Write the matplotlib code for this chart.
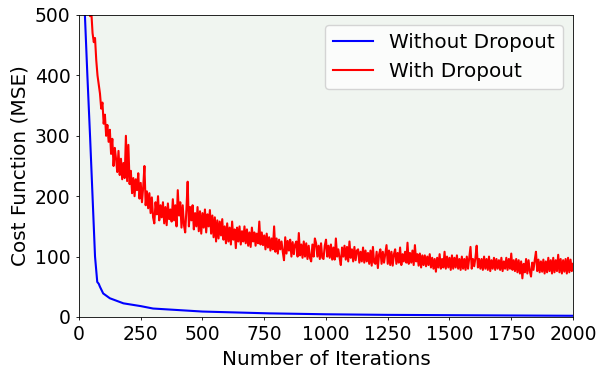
import numpy as np
import matplotlib.pyplot as plt

# Without dropout (smooth curve)
iter_nodrop = [0, 10, 24, 34, 45, 55, 65, 74, 80, 85, 98, 125, 180, 250, 300, 500, 770, 1000, 1250, 1500, 1750, 2000]
cost_nodrop = [760, 640, 500, 400, 298, 199, 100, 58, 55, 50, 39, 31, 22.6, 18, 14, 9, 6, 4.5, 3.5, 3, 2.5, 2]

# With dropout (noisy curve), one value every 5 iterations starting at 30
cost_drop = [
    565, 545, 520, 498, 505, 470, 455, 462, 425, 400,   # 30
    385, 370, 345, 355, 320, 335, 300, 318, 290, 310,   # 80
    270, 295, 250, 280, 262, 240, 275, 235, 262, 228,   # 130
    255, 230, 300, 225, 285, 220, 242, 205, 230, 200,   # 180
    228, 210, 238, 196, 222, 190, 215, 250, 185, 208,   # 230
    180, 205, 172, 198, 165, 155, 190, 170, 200, 160,   # 280
    185, 165, 190, 155, 182, 152, 188, 162, 178, 158,   # 330
    195, 160, 185, 150, 210, 168, 190, 148, 185, 152,   # 380
    140, 178, 224, 150, 182, 160, 185, 145, 172, 150,   # 430
    182, 142, 175, 138, 172, 148, 178, 140, 170, 150,   # 480
    177, 138, 168, 132, 165, 125, 160, 130, 158, 135,   # 530
    162, 128, 150, 122, 155, 125, 148, 120, 158, 128,   # 580
    145, 114, 148, 125, 150, 120, 142, 125, 150, 122,   # 630
    145, 118, 140, 116, 148, 125, 140, 118, 138, 122,   # 680
    158, 120, 140, 119, 135, 112, 138, 115, 132, 110,   # 730
    130, 112, 150, 108, 130, 105, 128, 112, 125, 108,   # 780
    94, 132, 105, 126, 110, 128, 100, 124, 104, 120,    # 830
    125, 100, 139, 102, 120, 98, 125, 100, 122, 96,     # 880
    118, 98, 92, 120, 100, 130, 122, 100, 118, 96,      # 930
    122, 98, 96, 118, 128, 100, 118, 98, 120, 95,       # 980
    115, 95, 130, 100, 112, 98, 86, 115, 100, 118,      # 1030
    95, 116, 92, 125, 98, 112, 92, 116, 94, 110,        # 1080
    112, 90, 108, 92, 115, 90, 110, 92, 106, 88,        # 1130
    110, 85, 116, 90, 88, 108, 81, 104, 112, 88,        # 1180
    108, 90, 105, 119, 88, 110, 86, 108, 85, 104,       # 1230
    112, 88, 106, 90, 115, 86, 104, 92, 108, 90,        # 1280
    123, 88, 106, 90, 110, 86, 119, 92, 104, 85,        # 1330
    105, 82, 102, 86, 102, 84, 100, 86, 104, 82,        # 1380
    98, 80, 96, 75, 98, 82, 104, 80, 96, 82,            # 1430
    108, 80, 100, 82, 98, 78, 102, 80, 98, 82,          # 1480
    102, 80, 96, 78, 100, 80, 96, 78, 100, 80,          # 1530
    98, 116, 80, 96, 84, 98, 118, 82, 96, 80,           # 1580
    96, 78, 100, 80, 96, 78, 100, 76, 94, 80,           # 1630
    98, 78, 96, 80, 94, 78, 98, 76, 92, 80,             # 1680
    98, 78, 96, 80, 105, 78, 94, 76, 96, 74,            # 1730
    94, 72, 92, 64, 88, 74, 96, 72, 94, 76,             # 1780
    67, 90, 78, 94, 108, 76, 95, 74, 92, 75,            # 1830
    95, 72, 92, 74, 98, 76, 94, 72, 98, 74,             # 1880
    94, 76, 103, 74, 96, 72, 94, 75, 96, 72,            # 1930
    98, 74, 95, 76, 88,                                 # 1980
]
iter_drop = np.arange(30, 30 + 5 * len(cost_drop), 5)

xticks = [0, 250, 500, 750, 1000, 1250, 1500, 1750, 2000]
yticks = [0, 100, 200, 300, 400, 500]

fig = plt.figure(figsize=(6.07, 3.75), dpi=100)
ax = fig.add_axes([0.1301, 0.1547, 0.8139, 0.8053])
ax.set_facecolor('#f0f5f0')

ax.plot(iter_nodrop, cost_nodrop, color='#0000ff', lw=1.5, label='Without Dropout')
ax.plot(iter_drop, cost_drop, color='#ff0000', lw=1.5, label='With Dropout')

ax.set_xlim(0, 2000)
ax.set_ylim(0, 500)
ax.set_xticks(xticks)
ax.set_yticks(yticks)
ax.tick_params(length=2.5, width=0.6, labelsize=13.5)
for s in ax.spines.values():
    s.set_linewidth(0.6)

ax.set_xlabel('Number of Iterations', fontsize=14.4)
ax.set_ylabel('Cost Function (MSE)', fontsize=14.4)
ax.legend(loc='upper right', fontsize=14.4)

fig.savefig('out.png', dpi=100)
